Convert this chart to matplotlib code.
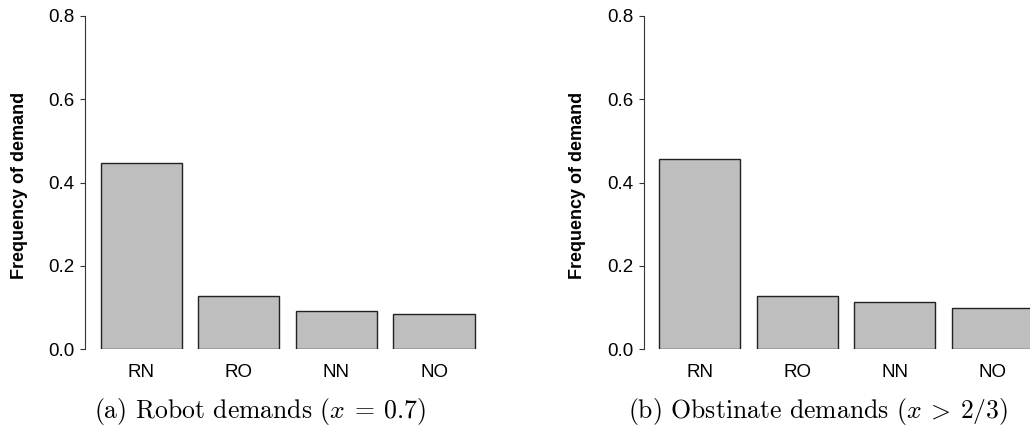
import matplotlib
matplotlib.use("Agg")
import matplotlib.pyplot as plt

categories = ["RN", "RO", "NN", "NO"]
robot_freq = [0.447, 0.127, 0.091, 0.085]
obstinate_freq = [0.456, 0.127, 0.113, 0.098]
yticks = [0.0, 0.2, 0.4, 0.6, 0.8]
captions = [r"(a) Robot demands ($x\:=\:0.7$)", r"(b) Obstinate demands ($x\:>\:2/3$)"]

plt.rcParams["font.family"] = ["Liberation Sans", "DejaVu Sans"]
plt.rcParams["mathtext.fontset"] = "cm"

W, H = 1030, 428
fig = plt.figure(figsize=(W / 100, H / 100), dpi=100)

# bar positions like R's barplot (width 1, space 0.2)
pos = [0.2 + 1.2 * i + 0.5 for i in range(len(categories))]

panels = [(85.3, robot_freq, 260), (643.7, obstinate_freq, 818)]
for (left_px, values, cap_x), cap in zip(panels, captions):
    ax = fig.add_axes([left_px / W, (H - 349) / H, 404 / W, (349 - 16) / H])
    ax.bar(pos, values, width=1.0, color="#bebebe", edgecolor="#222222", linewidth=1.0)
    ax.set_xlim(0.012, 4.98)
    ax.set_ylim(0, 0.8)
    for s in ["top", "right", "bottom"]:
        ax.spines[s].set_visible(False)
    ax.spines["left"].set_color("#333333")
    ax.spines["left"].set_bounds(0, 0.8)
    ax.set_yticks(yticks)
    ax.set_yticklabels(["%.1f" % t for t in yticks])
    ax.set_xticks(pos)
    ax.set_xticklabels(categories)
    ax.tick_params(axis="x", length=0, pad=10.5, labelsize=13.5)
    ax.tick_params(axis="y", length=3.6, width=0.8, color="#333333", pad=4, labelsize=13.5)
    ax.set_ylabel("Frequency of demand", fontweight="bold", fontsize=13)
    ax.yaxis.set_label_coords(-0.142, 0.49)
    fig.text(cap_x / W, 1 - 411.7 / H, cap, ha="center", va="center",
             fontsize=18.5, family="cmr10")

fig.savefig("out.png", dpi=100)
